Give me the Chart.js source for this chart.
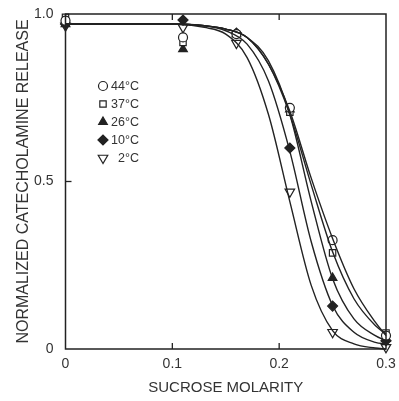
<!DOCTYPE html>
<html><head><meta charset="utf-8">
<script src="https://cdn.jsdelivr.net/npm/chart.js@4"></script>
<style>html,body{margin:0;padding:0;background:#fff;}canvas{display:block}</style>
</head><body>
<canvas id="c" width="399" height="401"></canvas>
<script>
// ---- data ----
const seriesLabels = ['44°C', '37°C', '26°C', '10°C', '2°C'];
const pointX = [0, 0.11, 0.16, 0.21, 0.25, 0.3];
const pts44 = [0.98, 0.93, 0.94, 0.72, 0.325, 0.04];
const pts37 = [0.99, 0.915, 0.94, 0.707, 0.287, 0.048];
const pts26 = [0.97, 0.895, 0.94, 0.715, 0.212, 0.03];
const pts10 = [0.97, 0.982, 0.943, 0.60, 0.128, 0.025];
const pts2  = [0.965, 0.96, 0.913, 0.469, 0.05, 0.005];

const curveX = [0, 0.1, 0.13, 0.15, 0.17, 0.19, 0.21, 0.23, 0.25, 0.27, 0.29, 0.3];
const fit44 = [0.97, 0.97, 0.965, 0.955, 0.93, 0.85, 0.71, 0.51, 0.33, 0.18, 0.08, 0.04];
const fit37 = [0.97, 0.97, 0.965, 0.955, 0.93, 0.85, 0.70, 0.49, 0.29, 0.15, 0.07, 0.045];
const fit26 = [0.97, 0.97, 0.965, 0.955, 0.93, 0.86, 0.70, 0.44, 0.21, 0.09, 0.04, 0.025];
const fit10 = [0.97, 0.97, 0.965, 0.95, 0.91, 0.80, 0.59, 0.32, 0.13, 0.05, 0.02, 0.015];
const fit2  = [0.97, 0.97, 0.96, 0.94, 0.87, 0.70, 0.44, 0.19, 0.055, 0.015, 0.003, 0.0];

const xTicks = [0, 0.1, 0.2, 0.3];
const yTicks = [0, 0.5, 1.0];

const INK = '#222';
const FONT = "'Liberation Sans', Arial, Helvetica, sans-serif";

const pointSeries = [pts44, pts37, pts26, pts10, pts2];
const fitSeries = [fit44, fit37, fit26, fit10, fit2];
const markerStyle = [
  {style: 'circle', fill: '#fff', rot: 0},
  {style: 'rect', fill: '#fff', rot: 0},
  {style: 'triangle', fill: INK, rot: 0},
  {style: 'rectRot', fill: INK, rot: 0},
  {style: 'triangle', fill: '#fff', rot: 180}
];
const markerRadius = [4.5, 4.5, 5, 5, 5.5];

const datasets = [];
fitSeries.forEach((f, i) => {
  datasets.push({
    label: 'fit ' + seriesLabels[i],
    data: curveX.map((x, k) => ({x: x, y: f[k]})),
    showLine: true, borderColor: INK, borderWidth: 1.4,
    pointRadius: 0, cubicInterpolationMode: 'monotone', fill: false, clip: false
  });
});
pointSeries.forEach((p, i) => {
  datasets.push({
    label: seriesLabels[i],
    data: pointX.map((x, k) => ({x: x, y: p[k]})),
    showLine: false,
    pointStyle: markerStyle[i].style,
    rotation: markerStyle[i].rot,
    pointRadius: markerRadius[i],
    pointBackgroundColor: markerStyle[i].fill,
    pointBorderColor: INK,
    pointBorderWidth: 1.2,
    clip: false
  });
});

const framePlugin = {
  id: 'frame',
  afterDatasetsDraw(chart) {
    const {ctx, chartArea: a, scales} = chart;
    ctx.save();
    ctx.strokeStyle = INK;
    ctx.lineWidth = 1.5;
    ctx.strokeRect(a.left, a.top, a.right - a.left, a.bottom - a.top);
    ctx.lineWidth = 1.3;
    xTicks.slice(1, -1).forEach(v => {
      const px = scales.x.getPixelForValue(v);
      ctx.beginPath();
      ctx.moveTo(px, a.bottom); ctx.lineTo(px, a.bottom - 6);
      ctx.moveTo(px, a.top); ctx.lineTo(px, a.top + 6);
      ctx.stroke();
    });
    yTicks.slice(1, -1).forEach(v => {
      const py = scales.y.getPixelForValue(v);
      ctx.beginPath();
      ctx.moveTo(a.left, py); ctx.lineTo(a.left + 6, py);
      ctx.stroke();
    });
    // legend inside the plot
    const lx = 103, ly0 = 86, dy = 18, tx = 139;
    ctx.font = '12.5px ' + FONT;
    ctx.textAlign = 'right';
    ctx.textBaseline = 'middle';
    seriesLabels.forEach((lab, i) => {
      const y = ly0 + i * dy;
      const opts = {pointStyle: markerStyle[i].style, radius: markerRadius[i], rotation: markerStyle[i].rot, borderWidth: 1.2};
      ctx.fillStyle = markerStyle[i].fill;
      ctx.strokeStyle = INK;
      ctx.lineWidth = 1.2;
      Chart.helpers.drawPoint(ctx, opts, lx, y);
      ctx.fillStyle = '#333';
      ctx.fillText(lab, tx, y + 0.5);
    });
    ctx.restore();
  }
};

new Chart(document.getElementById('c'), {
  type: 'scatter',
  data: {datasets},
  options: {
    responsive: false, animation: false,
    layout: {padding: {left: 0, right: 13, top: 14, bottom: 0}},
    plugins: {legend: {display: false}, tooltip: {enabled: false}},
    scales: {
      x: {
        type: 'linear', min: 0, max: 0.3,
        afterBuildTicks: s => { s.ticks = xTicks.map(v => ({value: v})); },
        afterFit: s => { s.height = 52; s.paddingLeft = 0; s.paddingRight = 0; },
        ticks: {color: '#333', font: {family: FONT, size: 14}, padding: 7,
          callback: v => v === 0 ? '0' : v.toFixed(1)},
        grid: {display: false, drawTicks: false},
        border: {display: false},
        title: {display: true, text: 'SUCROSE MOLARITY', color: '#333',
          font: {family: FONT, size: 15}, padding: {top: 0, bottom: 4}}
      },
      y: {
        type: 'linear', min: 0, max: 1,
        afterBuildTicks: s => { s.ticks = yTicks.map(v => ({value: v})); },
        afterFit: s => { s.width = 65.5; s.paddingTop = 0; s.paddingBottom = 0; },
        ticks: {color: '#333', font: {family: FONT, size: 14}, padding: 12,
          callback: v => v === 0 ? '0' : v.toFixed(1)},
        grid: {display: false, drawTicks: false},
        border: {display: false},
        title: {display: true, text: 'NORMALIZED CATECHOLAMINE RELEASE', color: '#333',
          font: {family: FONT, size: 16}, padding: {top: 14, bottom: 0}}
      }
    }
  },
  plugins: [framePlugin]
});
</script>
</body></html>
